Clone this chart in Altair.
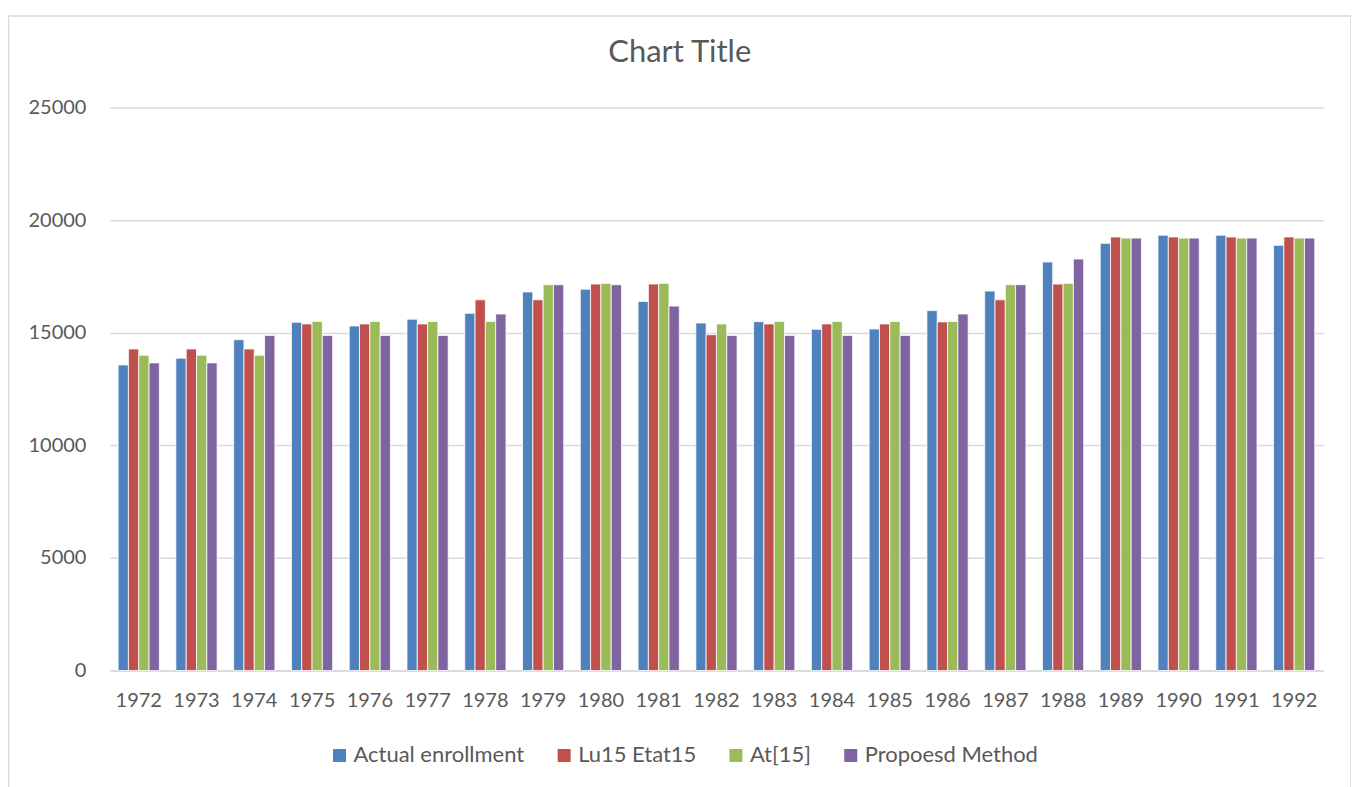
import altair as alt
import pandas as pd

years = [str(y) for y in range(1972, 1993)]
series = ["Actual enrollment", "Lu15 Etat15", "At[15]", "Propoesd Method"]
colors = ["#4F81BD", "#C0504D", "#9BBB59", "#8064A2"]

actual = [13570, 13870, 14690, 15460, 15300, 15600, 15860, 16810, 16930, 16390, 15430,
          15490, 15150, 15165, 15980, 16850, 18140, 18970, 19330, 19330, 18880]
lu15 = [14280, 14280, 14280, 15390, 15390, 15390, 16460, 16460, 17160, 17160, 14910,
        15390, 15390, 15390, 15480, 16460, 17160, 19250, 19250, 19250, 19250]
at15 = [14000, 14000, 14000, 15500, 15500, 15500, 15500, 17130, 17190, 17190, 15390,
        15500, 15500, 15500, 15500, 17130, 17190, 19200, 19200, 19200, 19200]
proposed = [13660, 13660, 14880, 14880, 14880, 14880, 15830, 17130, 17130, 16180, 14880,
            14880, 14880, 14880, 15830, 17130, 18270, 19200, 19200, 19200, 19200]

y_ticks = [0, 5000, 10000, 15000, 20000, 25000]

rows = []
for name, vals in zip(series, [actual, lu15, at15, proposed]):
    for yr, v in zip(years, vals):
        rows.append({"year": yr, "series": name, "value": v})
df = pd.DataFrame(rows)

FONT = "Lato"
GREY = "#595959"
W, H = 1215, 564

bars = alt.Chart(df).mark_bar(stroke="white", strokeWidth=0.8).encode(
    x=alt.X("year:N", sort=years,
            scale=alt.Scale(paddingInner=0.286, paddingOuter=0.143),
            axis=alt.Axis(title=None, labelAngle=0, ticks=False, domain=True,
                          domainColor="#d9d9d9", domainWidth=1.5,
                          labelFont=FONT, labelFontSize=20, labelColor=GREY,
                          labelPadding=20)),
    xOffset=alt.XOffset("series:N", sort=series,
                        scale=alt.Scale(paddingInner=0.0, paddingOuter=0.0)),
    y=alt.Y("value:Q", scale=alt.Scale(domain=[0, 25000], nice=False),
            axis=alt.Axis(title=None, values=y_ticks, ticks=False, domain=False,
                          grid=True, gridColor="#d9d9d9", gridWidth=1.5,
                          labelFont=FONT, labelFontSize=20, labelColor=GREY,
                          labelPadding=24, format="d")),
    color=alt.Color("series:N", sort=series,
                    scale=alt.Scale(domain=series, range=colors),
                    legend=alt.Legend(title=None, orient="none", legendX=219, legendY=638,
                                      direction="horizontal", columns=4,
                                      symbolType="square", symbolSize=169,
                                      symbolStrokeWidth=0, labelFont=FONT,
                                      labelFontSize=22, labelColor=GREY,
                                      columnPadding=28, labelOffset=3, labelLimit=400)),
)

border = alt.Chart(pd.DataFrame({"k": [0]})).mark_rect(
    fill=None, stroke="#d9d9d9", strokeWidth=1.5
).encode(
    x=alt.value(-101.5), x2=alt.value(W + 28), y=alt.value(-91.5), y2=alt.value(H + 140)
)

chart = alt.layer(border, bars).properties(
    width=W, height=H,
    title=alt.TitleParams("Chart Title", font=FONT, fontSize=31, fontWeight="normal",
                          color=GREY, anchor="middle", frame="bounds", offset=-54),
    padding={"left": 102, "top": 99, "right": 28, "bottom": 116},
    autosize=alt.AutoSizeParams(type="none"),
).configure_view(stroke=None)

chart.save("out.html", embed_options={"renderer": "svg", "actions": False})
